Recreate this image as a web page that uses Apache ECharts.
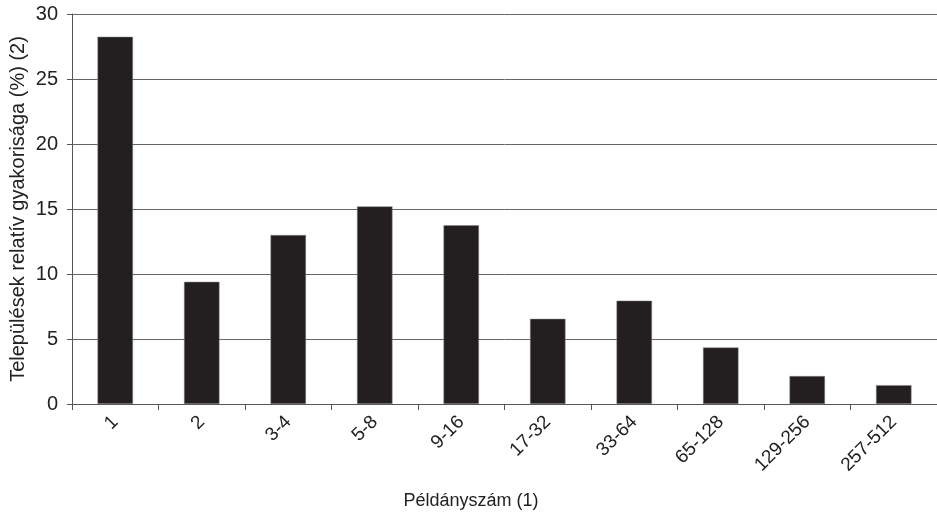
<!DOCTYPE html>
<html>
<head>
<meta charset="utf-8">
<script src="https://cdn.jsdelivr.net/npm/echarts@6/dist/echarts.min.js"></script>
<style>html,body{margin:0;padding:0;background:#fff}#c{width:937px;height:519px}</style>
</head>
<body>
<div id="c"></div>
<script>
const categories = ['1','2','3-4','5-8','9-16','17-32','33-64','65-128','129-256','257-512'];
const values = [28.25, 9.4, 13.0, 15.2, 13.75, 6.55, 7.95, 4.35, 2.15, 1.45];
const yTicks = [0, 5, 10, 15, 20, 25, 30];

const chart = echarts.init(document.getElementById('c'));
const font = 'Liberation Sans, Arial, sans-serif';
chart.setOption({
  animation: false,
  backgroundColor: '#fff',
  grid: { left: 72, right: 0, top: 14, bottom: 115, containLabel: false, outerBoundsMode: 'none' },
  xAxis: {
    type: 'category',
    data: categories,
    name: 'Példányszám (1)',
    nameLocation: 'middle',
    nameGap: 88,
    nameMoveOverlap: false,
    nameTextStyle: { fontFamily: font, fontSize: 18, color: '#222', padding: [0, 67, 0, 0] },
    axisLine: { lineStyle: { color: '#555', width: 1 } },
    axisTick: { show: true, length: 6, alignWithLabel: false, lineStyle: { color: '#555' } },
    axisLabel: { rotate: 45, fontFamily: font, fontSize: 19, color: '#222', margin: 15, interval: 0 }
  },
  yAxis: {
    type: 'value',
    min: 0, max: 30, interval: 5,
    name: 'Települések relatív gyakorisága (%) (2)',
    nameLocation: 'middle',
    nameGap: 44,
    nameMoveOverlap: false,
    nameTextStyle: { fontFamily: font, fontSize: 20, color: '#222' },
    axisLine: { show: true, lineStyle: { color: '#555', width: 1 } },
    axisTick: { show: true, length: 5, lineStyle: { color: '#555' } },
    axisLabel: { fontFamily: font, fontSize: 20, color: '#222', margin: 14,
      formatter: v => yTicks.includes(v) ? String(v) : '' },
    splitLine: { show: true, lineStyle: { color: '#666', width: 1 } }
  },
  series: [{
    type: 'bar',
    data: values,
    barWidth: '41%',
    itemStyle: { color: '#231f20', borderColor: '#888', borderWidth: 0.5 }
  }]
});
</script>
</body>
</html>
